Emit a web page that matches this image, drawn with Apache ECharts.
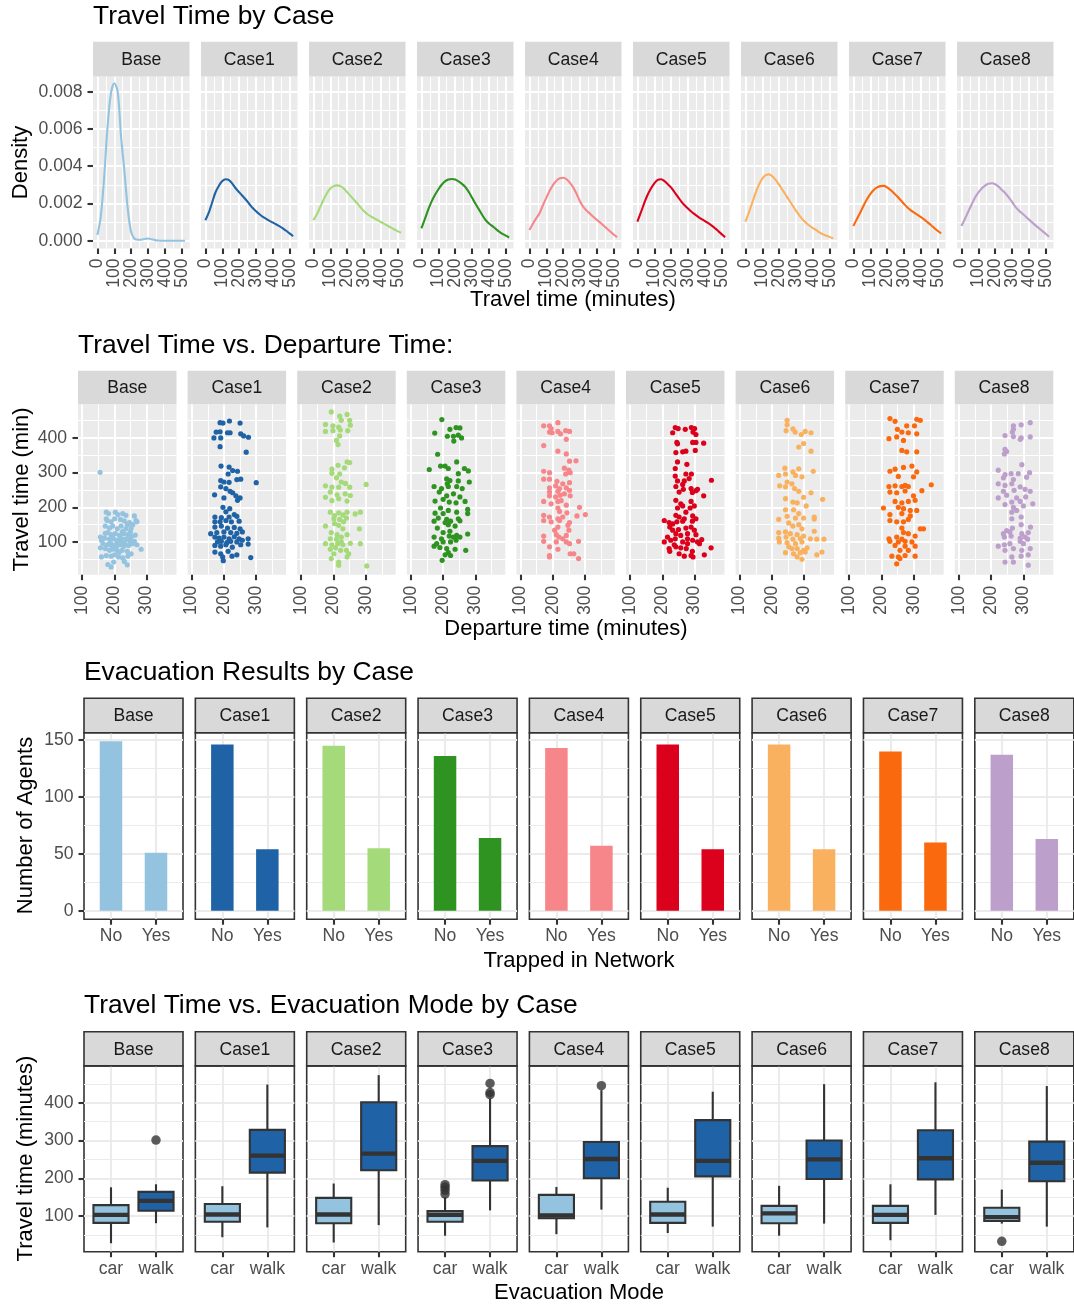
<!DOCTYPE html>
<html><head><meta charset="utf-8">
<script src="https://cdn.jsdelivr.net/npm/echarts@6/dist/echarts.min.js"></script>
<style>html,body{margin:0;padding:0;background:#fff}#chart{width:1074px;height:1306px}</style>
</head><body><div id="chart"></div>
<script>
// ---------------- DATA ----------------
const cases = ['Base','Case1','Case2','Case3','Case4','Case5','Case6','Case7','Case8'];
const caseColors = ['#94C3DF','#1F62A5','#A4DA79','#2F9322','#F7868A','#DB001B','#F9B15F','#FA690E','#BD9FCC'];
const modeLabels = ['car','walk'];
const modeColors = ['#94C3DF','#1F62A5'];
const trappedLabels = ['No','Yes'];

const densityXTicks = [0,100,200,300,400,500];
const densityYTicks = [0,0.002,0.004,0.006,0.008];
const departTicks = [100,200,300];
const travelTicks = [100,200,300,400];
const agentTicks = [0,50,100,150];

// density curves (travel time grid, density values)
const densityX = [0,20,40,60,80,100,120,140,160,180,200,220,240,260,280,300,320,340,360,380,400,420,440,460,480,500,519];
const densityBase  = [0.3e-3,1.3e-3,3.4e-3,6.1e-3,7.9e-3,8.45e-3,8.0e-3,5.6e-3,3.7e-3,1.7e-3,0.45e-3,0.1e-3,0.05e-3,0.05e-3,0.09e-3,0.12e-3,0.08e-3,0.03e-3,0.01e-3,0,0,0,0,0,0,0,0];
const densityCase1 = [1.1e-3,1.5e-3,2.05e-3,2.6e-3,2.95e-3,3.2e-3,3.3e-3,3.25e-3,3.05e-3,2.8e-3,2.6e-3,2.4e-3,2.2e-3,1.97e-3,1.75e-3,1.58e-3,1.42e-3,1.28e-3,1.17e-3,1.06e-3,0.97e-3,0.87e-3,0.77e-3,0.65e-3,0.52e-3,0.38e-3,0.24e-3];
const densityCase2 = [1.1e-3,1.4e-3,1.8e-3,2.2e-3,2.55e-3,2.8e-3,2.93e-3,2.97e-3,2.93e-3,2.8e-3,2.6e-3,2.4e-3,2.2e-3,2.0e-3,1.78e-3,1.58e-3,1.42e-3,1.3e-3,1.2e-3,1.1e-3,1.0e-3,0.9e-3,0.8e-3,0.7e-3,0.6e-3,0.5e-3,0.43e-3];
const densityCase3 = [0.66e-3,1.15e-3,1.65e-3,2.1e-3,2.45e-3,2.75e-3,3.0e-3,3.18e-3,3.28e-3,3.31e-3,3.28e-3,3.18e-3,3.05e-3,2.88e-3,2.62e-3,2.3e-3,1.98e-3,1.68e-3,1.38e-3,1.11e-3,0.92e-3,0.78e-3,0.63e-3,0.49e-3,0.37e-3,0.27e-3,0.17e-3];
const densityCase4 = [0.57e-3,0.9e-3,1.2e-3,1.47e-3,1.9e-3,2.3e-3,2.68e-3,3.0e-3,3.22e-3,3.35e-3,3.38e-3,3.3e-3,3.1e-3,2.85e-3,2.5e-3,2.1e-3,1.8e-3,1.6e-3,1.44e-3,1.27e-3,1.11e-3,0.96e-3,0.8e-3,0.64e-3,0.48e-3,0.32e-3,0.19e-3];
const densityCase5 = [1.02e-3,1.5e-3,2.0e-3,2.45e-3,2.8e-3,3.08e-3,3.26e-3,3.3e-3,3.2e-3,3.03e-3,2.85e-3,2.6e-3,2.35e-3,2.1e-3,1.9e-3,1.72e-3,1.55e-3,1.41e-3,1.28e-3,1.16e-3,1.05e-3,0.94e-3,0.81e-3,0.66e-3,0.5e-3,0.34e-3,0.19e-3];
const densityCase6 = [1.02e-3,1.5e-3,2.02e-3,2.55e-3,3.0e-3,3.33e-3,3.52e-3,3.56e-3,3.45e-3,3.25e-3,3.0e-3,2.72e-3,2.44e-3,2.16e-3,1.88e-3,1.6e-3,1.35e-3,1.12e-3,0.95e-3,0.8e-3,0.67e-3,0.56e-3,0.43e-3,0.34e-3,0.26e-3,0.19e-3,0.13e-3];
const densityCase7 = [0.79e-3,1.15e-3,1.5e-3,1.87e-3,2.22e-3,2.5e-3,2.72e-3,2.86e-3,2.93e-3,2.94e-3,2.86e-3,2.72e-3,2.55e-3,2.37e-3,2.17e-3,1.97e-3,1.78e-3,1.63e-3,1.5e-3,1.38e-3,1.27e-3,1.13e-3,0.98e-3,0.83e-3,0.67e-3,0.52e-3,0.39e-3];
const densityCase8 = [0.79e-3,1.15e-3,1.55e-3,1.93e-3,2.3e-3,2.58e-3,2.8e-3,2.96e-3,3.05e-3,3.08e-3,3.03e-3,2.9e-3,2.72e-3,2.55e-3,2.33e-3,2.08e-3,1.82e-3,1.62e-3,1.46e-3,1.3e-3,1.13e-3,0.97e-3,0.81e-3,0.66e-3,0.51e-3,0.36e-3,0.21e-3];

// departure time vs travel time points [departure, travel]
const scatterBase = [[156,301],[175,186],[182,182],[203,186],[211,179],[226,182],[236,177],[262,175],[267,162],[178,162],[190,158],[201,167],[219,165],[231,161],[247,156],[257,150],[270,158],[172,146],[185,140],[195,146],[209,138],[221,146],[236,138],[252,140],[180,127],[190,121],[203,124],[216,119],[229,124],[242,121],[254,117],[157,114],[170,111],[185,108],[198,109],[211,105],[223,109],[236,108],[250,111],[262,102],[165,95],[178,92],[190,95],[203,90],[216,92],[229,88],[244,90],[257,95],[270,92],[283,79],[157,83],[172,81],[185,76],[198,79],[211,73],[224,76],[240,73],[252,66],[160,57],[175,61],[190,59],[201,63],[213,57],[226,54],[242,59],[231,44],[198,42],[180,35],[190,28],[240,34],[175,167],[221,100],[206,81],[193,88],[231,98],[248,102],[160,105],[172,125],[250,130],[265,120],[208,100],[195,112],[225,130],[240,150],[185,95],[215,70]];
const scatterCase1 = [[188,444],[197,443],[217,449],[250,443],[176,417],[188,418],[211,415],[219,415],[169,400],[190,400],[252,412],[261,406],[276,402],[188,375],[269,359],[191,319],[216,316],[227,306],[242,304],[213,296],[190,277],[200,273],[216,272],[240,280],[252,281],[300,271],[190,259],[206,254],[219,246],[227,242],[171,236],[200,227],[237,233],[250,227],[242,220],[197,200],[218,196],[206,187],[232,179],[172,172],[192,170],[216,172],[240,174],[172,158],[188,158],[206,162],[223,158],[247,160],[172,143],[192,146],[211,140],[232,142],[250,138],[178,127],[200,129],[221,127],[240,125],[172,114],[185,111],[200,114],[216,109],[232,115],[247,109],[275,109],[180,100],[192,102],[209,98],[221,102],[240,100],[257,105],[172,90],[190,88],[206,92],[226,85],[252,92],[275,94],[172,71],[190,66],[213,73],[240,63],[196,57],[225,59],[198,46],[283,55],[159,124],[257,129]];
const scatterCase2 = [[193,475],[219,463],[242,468],[224,451],[250,451],[175,439],[198,435],[216,431],[252,437],[175,419],[198,421],[221,423],[244,421],[219,406],[209,393],[214,381],[214,321],[242,331],[250,329],[195,310],[234,314],[195,298],[219,296],[209,285],[224,273],[237,269],[301,266],[175,262],[195,258],[216,258],[250,258],[175,229],[190,244],[211,236],[236,239],[252,234],[216,225],[195,219],[242,218],[190,186],[203,176],[216,184],[229,178],[242,186],[267,181],[283,186],[201,167],[219,165],[240,169],[175,146],[216,148],[229,138],[280,138],[193,127],[211,121],[224,114],[242,121],[190,109],[209,108],[224,100],[175,95],[195,92],[213,95],[229,92],[252,96],[283,95],[190,79],[206,83],[240,76],[247,66],[193,52],[216,42],[216,33],[242,57],[303,31],[222,76],[201,66],[231,158],[203,153]];
const scatterCase3 = [[196,453],[174,414],[221,425],[240,430],[252,429],[213,405],[232,405],[247,408],[257,400],[233,391],[183,353],[157,309],[192,319],[206,319],[242,331],[266,312],[216,312],[247,297],[278,305],[281,273],[211,282],[221,277],[213,268],[247,276],[172,260],[195,254],[216,260],[242,260],[259,254],[188,244],[211,233],[232,239],[252,230],[175,218],[200,223],[219,215],[240,213],[268,217],[192,198],[216,191],[276,194],[175,183],[200,182],[242,186],[276,182],[185,169],[211,165],[247,167],[172,160],[206,156],[223,160],[252,161],[182,140],[216,150],[237,146],[200,127],[221,131],[276,123],[172,114],[195,109],[219,117],[232,114],[242,119],[252,114],[180,95],[200,100],[223,100],[240,105],[172,88],[190,84],[211,81],[237,79],[270,76],[216,69],[223,61],[197,47],[206,63]];
const scatterCase4 = [[216,444],[172,435],[190,435],[195,427],[190,417],[198,415],[216,419],[224,412],[240,421],[252,419],[242,396],[172,378],[216,362],[242,354],[252,333],[272,334],[236,313],[250,307],[172,304],[190,300],[240,296],[254,300],[172,281],[190,281],[213,275],[231,268],[252,271],[190,256],[209,262],[221,254],[242,256],[190,244],[216,246],[236,239],[252,249],[190,233],[209,230],[223,235],[254,233],[172,217],[195,210],[216,217],[226,219],[242,206],[216,198],[221,188],[283,200],[244,184],[275,175],[301,179],[172,177],[172,162],[190,172],[216,167],[231,172],[195,158],[221,162],[252,156],[216,143],[247,148],[250,134],[211,121],[172,117],[219,114],[242,119],[172,102],[211,100],[242,100],[252,95],[280,102],[190,86],[216,79],[190,61],[190,57],[254,66],[265,66],[280,52],[231,109],[206,134]];
const scatterCase5 = [[240,430],[249,427],[232,415],[271,425],[290,430],[300,427],[295,417],[304,410],[247,383],[245,387],[294,387],[304,387],[328,385],[242,358],[263,360],[273,362],[302,364],[247,331],[276,324],[240,312],[240,290],[273,296],[290,296],[247,276],[268,276],[283,283],[352,278],[263,266],[242,260],[265,252],[289,254],[309,252],[252,244],[293,243],[304,248],[328,233],[242,220],[257,210],[289,217],[247,198],[263,204],[286,198],[299,204],[242,177],[252,172],[268,167],[294,175],[304,167],[206,162],[221,156],[245,158],[263,160],[293,160],[223,143],[232,134],[250,136],[273,140],[289,143],[299,134],[242,124],[257,119],[278,124],[304,121],[206,100],[226,105],[240,109],[263,100],[278,109],[294,105],[309,100],[322,107],[221,81],[242,86],[257,83],[274,81],[293,73],[223,73],[252,66],[268,59],[289,61],[295,57],[330,63],[351,83],[315,95],[278,95],[237,92],[216,114],[232,152],[273,186]];
const scatterCase6 = [[247,451],[247,438],[244,421],[265,426],[272,417],[291,410],[303,419],[321,415],[298,384],[283,374],[321,362],[240,313],[283,311],[328,304],[221,292],[242,296],[265,302],[273,292],[293,288],[247,273],[262,268],[224,262],[242,259],[270,254],[283,246],[321,242],[242,225],[265,215],[278,213],[298,229],[357,223],[306,204],[242,193],[267,193],[283,182],[247,174],[221,165],[273,169],[298,169],[331,172],[252,155],[265,146],[283,150],[331,166],[293,138],[331,131],[221,127],[242,129],[257,124],[278,121],[298,117],[221,111],[244,114],[265,108],[288,109],[319,109],[339,108],[361,108],[223,100],[247,98],[273,95],[293,100],[252,86],[278,81],[298,76],[309,83],[242,69],[267,66],[288,69],[303,71],[355,71],[339,63],[278,57],[293,50],[262,81]];
const scatterCase7 = [[226,456],[242,448],[309,454],[320,451],[249,425],[278,435],[302,435],[263,417],[283,415],[309,412],[223,398],[247,403],[268,393],[263,364],[278,360],[309,360],[226,304],[242,310],[268,315],[294,319],[309,302],[252,289],[299,288],[273,263],[223,260],[242,262],[263,260],[283,260],[354,265],[226,244],[247,242],[273,247],[299,233],[325,248],[242,217],[263,213],[283,217],[304,220],[206,198],[252,200],[268,196],[289,191],[309,191],[226,179],[263,182],[289,175],[226,162],[247,158],[268,158],[283,165],[263,140],[320,138],[330,138],[268,127],[283,124],[247,114],[304,117],[223,109],[263,108],[226,102],[252,100],[273,102],[294,100],[242,90],[273,88],[304,88],[257,76],[283,76],[232,59],[252,57],[273,61],[304,59],[247,37],[257,52]];
const scatterCase8 = [[269,435],[293,438],[321,444],[269,425],[266,417],[243,407],[269,404],[293,400],[290,396],[321,403],[243,367],[248,361],[241,354],[295,323],[222,307],[243,294],[262,297],[284,297],[319,300],[238,285],[269,280],[310,287],[222,268],[243,263],[264,268],[290,259],[305,252],[321,246],[238,246],[271,249],[222,227],[248,235],[279,227],[307,230],[264,215],[290,217],[329,210],[243,208],[269,200],[300,204],[264,186],[279,191],[293,172],[264,167],[322,143],[293,150],[266,140],[248,133],[238,124],[258,129],[241,114],[262,117],[295,124],[315,127],[290,111],[305,114],[313,108],[222,88],[241,92],[258,95],[290,102],[300,95],[243,76],[269,81],[295,76],[321,81],[264,57],[293,59],[243,42],[269,42],[315,33],[315,63]];

// trapped in network counts
const trappedNo  = [149,146,145,136,143,146,146,140,137];
const trappedYes = [51,54,55,64,57,54,54,60,63];

// boxplot stats [lower whisker, Q1, median, Q3, upper whisker]
const boxCar = [[28,82,103,129,176],[44,85,104,132,179],[30,81,104,148,186],[48,85,103,113,150],[52,94,102,156,177],[55,82,104,138,175],[48,81,107,127,180],[36,82,103,127,184],[80,87,97,122,170]];
const boxWalk = [[81,114,140,164,184],[70,215,260,328,448],[76,221,265,401,473],[115,194,246,285,411],[117,200,251,296,433],[72,205,246,354,429],[80,198,250,300,449],[103,197,253,327,454],[72,192,241,297,444]];
const outliersCar  = [[],[],[],[183,176,168,158],[],[],[],[],[33]];
const outliersWalk = [[301],[],[],[451,427,421],[445],[],[],[],[]];

// ---------------- LAYOUT / STYLE ----------------
const FONT = '"Liberation Sans", Arial, Helvetica, sans-serif';
const TICK_FS = 17.6, STRIP_FS = 17.6, AXTITLE_FS = 22, TITLE_FS = 26.4;
const rows = {
  density: {left:93, step:108, width:96.5, top:76.4, height:172.1, stripTop:41.7, xMin:-26, xMax:545, yMin:-0.00042, yMax:0.00882, xMinor:[50,150,250,350,450], yMinor:[0.001,0.003,0.005,0.007], theme:'gray'},
  scatter: {left:78, step:109.6, width:98.5, top:404.2, height:170.5, stripTop:370.7, xMin:87.5, xMax:392.5, yMin:5.6, yMax:497.4, xMinor:[150,250,350], yMinor:[50,150,250,350,450], theme:'gray'},
  bar: {left:84, step:111.35, width:99, top:732.7, height:186.5, stripTop:698.3, xMin:0.4, xMax:2.6, yMin:-7.45, yMax:156.45, xMinor:[], yMinor:[25,75,125], theme:'bw'},
  box: {left:84, step:111.35, width:99, top:1065.9, height:185.8, stripTop:1031.7, xMin:0.4, xMax:2.6, yMin:5.6, yMax:497.4, xMinor:[], yMinor:[50,150,250,350,450], theme:'bw'}
};
const BOX_WIDTH = 0.78, BAR_WIDTH_PX = 22.5;

const option = {animation:false, backgroundColor:'#ffffff', grid:[], xAxis:[], yAxis:[], series:[], graphic:{elements:[]}};
const G = option.graphic.elements;

function addText(text, x, y, size, color, align, rotation) {
  G.push({type:'text', x:x, y:y, rotation:rotation||0, z:100, silent:true,
    style:{text:text, fontSize:size, fontFamily:FONT, fill:color, textAlign:align, align:align, textVerticalAlign:'middle', verticalAlign:'middle'}});
}

function labelStyle(extra) {
  return Object.assign({color:'#4D4D4D', fontSize:TICK_FS, fontFamily:FONT, hideOverlap:false}, extra||{});
}

// Returns axes for one panel dimension: minor-grid axis, major axis (+ optional extra label axis)
function buildAxes(dim, gi, min, max, majors, minors, showLabels, theme, labelOpts, splitLabels) {
  const gridColor = theme === 'gray' ? '#FFFFFF' : '#EBEBEB';
  const pos = dim === 'x' ? 'bottom' : 'left';
  const base = {type:'value', gridIndex:gi, position:pos, offset:0, min:min, max:max, scale:false, axisLine:{show:false, onZero:false}};
  const labA = splitLabels ? majors.filter((v, k) => k % 2 === 0) : majors;
  const labB = splitLabels ? majors.filter((v, k) => k % 2 === 1) : null;
  const axes = [];
  axes.push(Object.assign({}, base, {
    axisTick:{show:false, customValues:minors.length ? minors : [min - 1]},
    axisLabel:{show:false, customValues:minors.length ? minors : [min - 1]},
    splitLine:{show:minors.length > 0, lineStyle:{color:gridColor, width:1.05}}
  }));
  axes.push(Object.assign({}, base, {
    axisTick:{show:showLabels, customValues:majors, length:5.5, lineStyle:{color:'#333333', width:2.1}},
    axisLabel:Object.assign({show:showLabels, customValues:labA}, labelStyle(labelOpts)),
    splitLine:{show:true, lineStyle:{color:gridColor, width:2.1}},
    minorTick:{show:false}, minorSplitLine:{show:false}
  }));
  if (labB) {
    axes.push(Object.assign({}, base, {
      axisTick:{show:false, customValues:labB},
      axisLabel:Object.assign({show:showLabels, customValues:labB}, labelStyle(labelOpts)),
      splitLine:{show:false}
    }));
  }
  return axes;
}

function addPanel(row, i, xMajors, yMajors, xLabelOpts, yLabelOpts, splitX) {
  const gi = option.grid.length;
  const left = row.left + row.step * i;
  option.grid.push({left:left, top:row.top, width:row.width, height:row.height, show:true,
    backgroundColor: row.theme === 'gray' ? '#EBEBEB' : '#FFFFFF',
    borderColor:'#333333', borderWidth: row.theme === 'gray' ? 0 : 1.6,
    containLabel:false, outerBoundsMode:'none'});
  const xi = option.xAxis.length;
  option.xAxis.push(...buildAxes('x', gi, row.xMin, row.xMax, xMajors, row.xMinor, true, row.theme, Object.assign({margin:10}, xLabelOpts), splitX));
  const yi = option.yAxis.length;
  option.yAxis.push(...buildAxes('y', gi, row.yMin, row.yMax, yMajors, row.yMinor, i === 0, row.theme, Object.assign({margin:10.5}, yLabelOpts), false));
  // strip
  G.push({type:'rect', z:50, silent:true,
    shape:{x:left, y:row.stripTop, width:row.width, height:row.top - row.stripTop},
    style: row.theme === 'gray' ? {fill:'#D9D9D9'} : {fill:'#D9D9D9', stroke:'#333333', lineWidth:1.6}});
  addText(cases[i], left + row.width / 2, (row.stripTop + row.top) / 2 + 1, STRIP_FS, '#1A1A1A', 'center');
  return {xIndex: xi + 1, yIndex: yi + 1, left: left};
}

const densityByCase = [densityBase,densityCase1,densityCase2,densityCase3,densityCase4,densityCase5,densityCase6,densityCase7,densityCase8];
const scatterByCase = [scatterBase,scatterCase1,scatterCase2,scatterCase3,scatterCase4,scatterCase5,scatterCase6,scatterCase7,scatterCase8];

// ---- Row 1: density ----
cases.forEach((c, i) => {
  const p = addPanel(rows.density, i, densityXTicks, densityYTicks, {rotate:90, margin:10}, {formatter: v => Number(v).toFixed(3)}, true);
  option.series.push({type:'line', name:c, xAxisIndex:p.xIndex, yAxisIndex:p.yIndex, showSymbol:false, smooth:0.35,
    lineStyle:{color:caseColors[i], width:2.1}, itemStyle:{color:caseColors[i]}, z:3, silent:true,
    data: densityX.map((x, k) => [x, densityByCase[i][k]])});
});
// ---- Row 2: scatter ----
cases.forEach((c, i) => {
  const p = addPanel(rows.scatter, i, departTicks, travelTicks, {rotate:90, margin:11}, {margin:11}, false);
  option.series.push({type:'scatter', name:c, xAxisIndex:p.xIndex, yAxisIndex:p.yIndex, symbolSize:5.2,
    itemStyle:{color:caseColors[i], opacity:1}, z:3, silent:true, data:scatterByCase[i]});
});
// ---- Row 3: bars ----
cases.forEach((c, i) => {
  const p = addPanel(rows.bar, i, [1,2], agentTicks, {formatter: v => trappedLabels[Math.round(v) - 1], margin:8}, {}, false);
  option.series.push({type:'bar', name:c, xAxisIndex:p.xIndex, yAxisIndex:p.yIndex, barWidth:BAR_WIDTH_PX,
    itemStyle:{color:caseColors[i]}, z:3, silent:true,
    data:[[1, trappedNo[i]], [2, trappedYes[i]]]});
});
// ---- Row 4: boxplots ----
cases.forEach((c, i) => {
  const p = addPanel(rows.box, i, [1,2], travelTicks, {formatter: v => modeLabels[Math.round(v) - 1], margin:8}, {}, false);
  option.series.push({type:'custom', name:c, xAxisIndex:p.xIndex, yAxisIndex:p.yIndex, z:3, silent:true,
    encode:{x:0, y:[1,2,3,4,5]},
    data:[[1].concat(boxCar[i]), [2].concat(boxWalk[i])],
    renderItem:(params, api) => {
      const x = api.value(0);
      const lo = api.coord([x, api.value(1)]), q1 = api.coord([x, api.value(2)]), md = api.coord([x, api.value(3)]),
            q3 = api.coord([x, api.value(4)]), hi = api.coord([x, api.value(5)]);
      const half = api.size([BOX_WIDTH, 0])[0] / 2;
      const cx = md[0];
      const ls = {stroke:'#333333', lineWidth:2.1};
      return {type:'group', children:[
        {type:'line', shape:{x1:cx, y1:hi[1], x2:cx, y2:q3[1]}, style:ls},
        {type:'line', shape:{x1:cx, y1:q1[1], x2:cx, y2:lo[1]}, style:ls},
        {type:'rect', shape:{x:cx - half, y:q3[1], width:half * 2, height:q1[1] - q3[1]}, style:{fill:modeColors[params.dataIndex], stroke:'#333333', lineWidth:2.1}},
        {type:'line', shape:{x1:cx - half, y1:md[1], x2:cx + half, y2:md[1]}, style:{stroke:'#333333', lineWidth:4.3}}
      ]};
    }});
  const outs = outliersCar[i].map(v => [1, v]).concat(outliersWalk[i].map(v => [2, v]));
  option.series.push({type:'scatter', name:c + ' outliers', xAxisIndex:p.xIndex, yAxisIndex:p.yIndex, symbolSize:9.5,
    itemStyle:{color:'#333333'}, z:4, silent:true, data:outs});
});

// ---- titles ----
addText('Travel Time by Case', 93, 16.5, TITLE_FS, '#000000', 'left');
addText('Travel Time vs. Departure Time:', 78, 345.5, TITLE_FS, '#000000', 'left');
addText('Evacuation Results by Case', 84, 672.5, TITLE_FS, '#000000', 'left');
addText('Travel Time vs. Evacuation Mode by Case', 84, 1005.5, TITLE_FS, '#000000', 'left');
// ---- axis titles ----
addText('Travel time (minutes)', 573, 300, AXTITLE_FS, '#000000', 'center');
addText('Departure time (minutes)', 566, 629, AXTITLE_FS, '#000000', 'center');
addText('Trapped in Network', 579, 961, AXTITLE_FS, '#000000', 'center');
addText('Evacuation Mode', 579, 1293, AXTITLE_FS, '#000000', 'center');
addText('Density', 20.5, 162.5, AXTITLE_FS, '#000000', 'center', Math.PI / 2);
addText('Travel time (min)', 21.5, 489.5, AXTITLE_FS, '#000000', 'center', Math.PI / 2);
addText('Number of Agents', 25.5, 825.5, AXTITLE_FS, '#000000', 'center', Math.PI / 2);
addText('Travel time (minutes)', 25.5, 1158.5, AXTITLE_FS, '#000000', 'center', Math.PI / 2);

const chart = echarts.init(document.getElementById('chart'), null, {renderer:'canvas', width:1074, height:1306});
chart.setOption(option);
</script></body></html>
